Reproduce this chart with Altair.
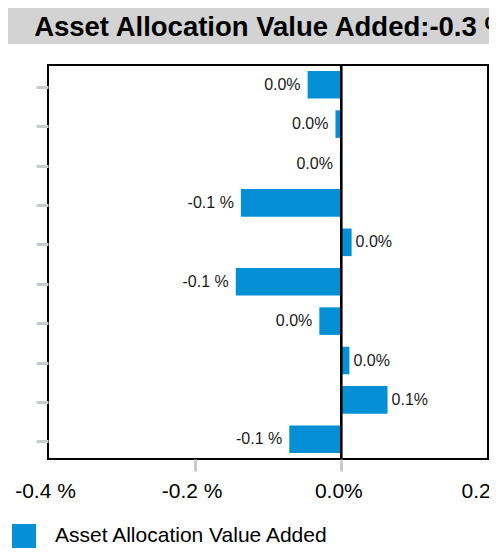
import altair as alt
import pandas as pd

title_text = "Asset Allocation Value Added:-0.3 %"
series_name = "Asset Allocation Value Added"
categories = ["r01", "r02", "r03", "r04", "r05", "r06", "r07", "r08", "r09", "r10"]
values = [-0.046, -0.008, -0.002, -0.137, 0.014, -0.144, -0.030, 0.011, 0.063, -0.071]
labels = ["0.0%", "0.0%", "0.0%", "-0.1 %", "0.0%", "-0.1 %", "0.0%", "0.0%", "0.1%", "-0.1 %"]
x_ticks = [-0.4, -0.2, 0.0, 0.2]

df = pd.DataFrame({"cat": categories, "value": values, "label": labels,
                   "series": [series_name] * len(categories)})
title_df = pd.DataFrame({"t": [title_text]})

W, H = 440, 394
PAD_L, PAD_T = 40, 57
SVG_W, SVG_H = 481, 540
BAR = "#0590d6"
TICK = "#c8ccd0"

yenc = alt.Y("cat:N", sort=categories,
             scale=alt.Scale(paddingInner=0.3, paddingOuter=0.15),
             axis=alt.Axis(labels=False, title=None, domain=False, grid=False,
                           tickColor=TICK, tickWidth=3, tickSize=12, tickOffset=2))
xscale = alt.Scale(domain=[-0.4, 0.2], nice=False)
xaxis = alt.Axis(values=x_ticks, title=None, domain=False, grid=False,
                 labelExpr="datum.value < 0 ? '-' + format(abs(datum.value), '.1f') + ' %' : format(datum.value, '.1f') + '%'",
                 tickColor={"condition": {"test": "datum.value > -0.3 && datum.value < 0.1", "value": TICK},
                            "value": "transparent"},
                 tickWidth=3, tickSize=12, labelFontSize=21, labelFont="Liberation Sans",
                 labelColor="black", labelPadding=9, labelFlush=False, labelOffset=-3)

base = alt.Chart(df)

bars = base.mark_bar().encode(
    y=yenc,
    x=alt.X("value:Q", scale=xscale, axis=xaxis),
    color=alt.Color("series:N", scale=alt.Scale(range=[BAR]),
                    legend=alt.Legend(orient="none", legendX=-36, legendY=459, title=None,
                                      symbolType="square", symbolSize=576, symbolStrokeWidth=0,
                                      labelFontSize=21, labelFont="Liberation Sans", labelLimit=400,
                                      labelColor="black", labelOffset=19, padding=0)),
)

lab_font = "Liberation Sans"
neg_text = base.transform_filter("datum.value < 0").mark_text(
    align="right", baseline="middle", dx=-7, fontSize=16, font=lab_font, color="#1a1a1a"
).encode(y=alt.Y("cat:N", sort=categories), x=alt.X("value:Q"), text="label:N")
pos_text = base.transform_filter("datum.value >= 0").mark_text(
    align="left", baseline="middle", dx=4, fontSize=16, font=lab_font, color="#1a1a1a"
).encode(y=alt.Y("cat:N", sort=categories), x=alt.X("value:Q"), text="label:N")

zero_rule = base.mark_rule(color="black", strokeWidth=1.5).encode(x=alt.datum(0))

band = alt.Chart(title_df).mark_rect(color="#d3d3d3").encode(
    x=alt.value(-PAD_L), x2=alt.value(W + 80), y=alt.value(-PAD_T), y2=alt.value(-21))
title = alt.Chart(title_df).mark_text(
    fontSize=27.5, fontWeight="bold", font="Liberation Sans", color="black",
    align="center", baseline="alphabetic"
).encode(x=alt.value(W / 2 + 3.5), y=alt.value(-29), text="t:N")

chart = alt.layer(band, title, bars, zero_rule, neg_text, pos_text).properties(
    width=W, height=H,
    autosize=alt.AutoSizeParams(type="none"),
    padding={"left": PAD_L, "top": PAD_T, "right": SVG_W - PAD_L - W, "bottom": SVG_H - PAD_T - H},
    background="white"
).configure_view(stroke="black", strokeWidth=2)

chart.save("out.html", embed_options={"renderer": "svg", "actions": False})
